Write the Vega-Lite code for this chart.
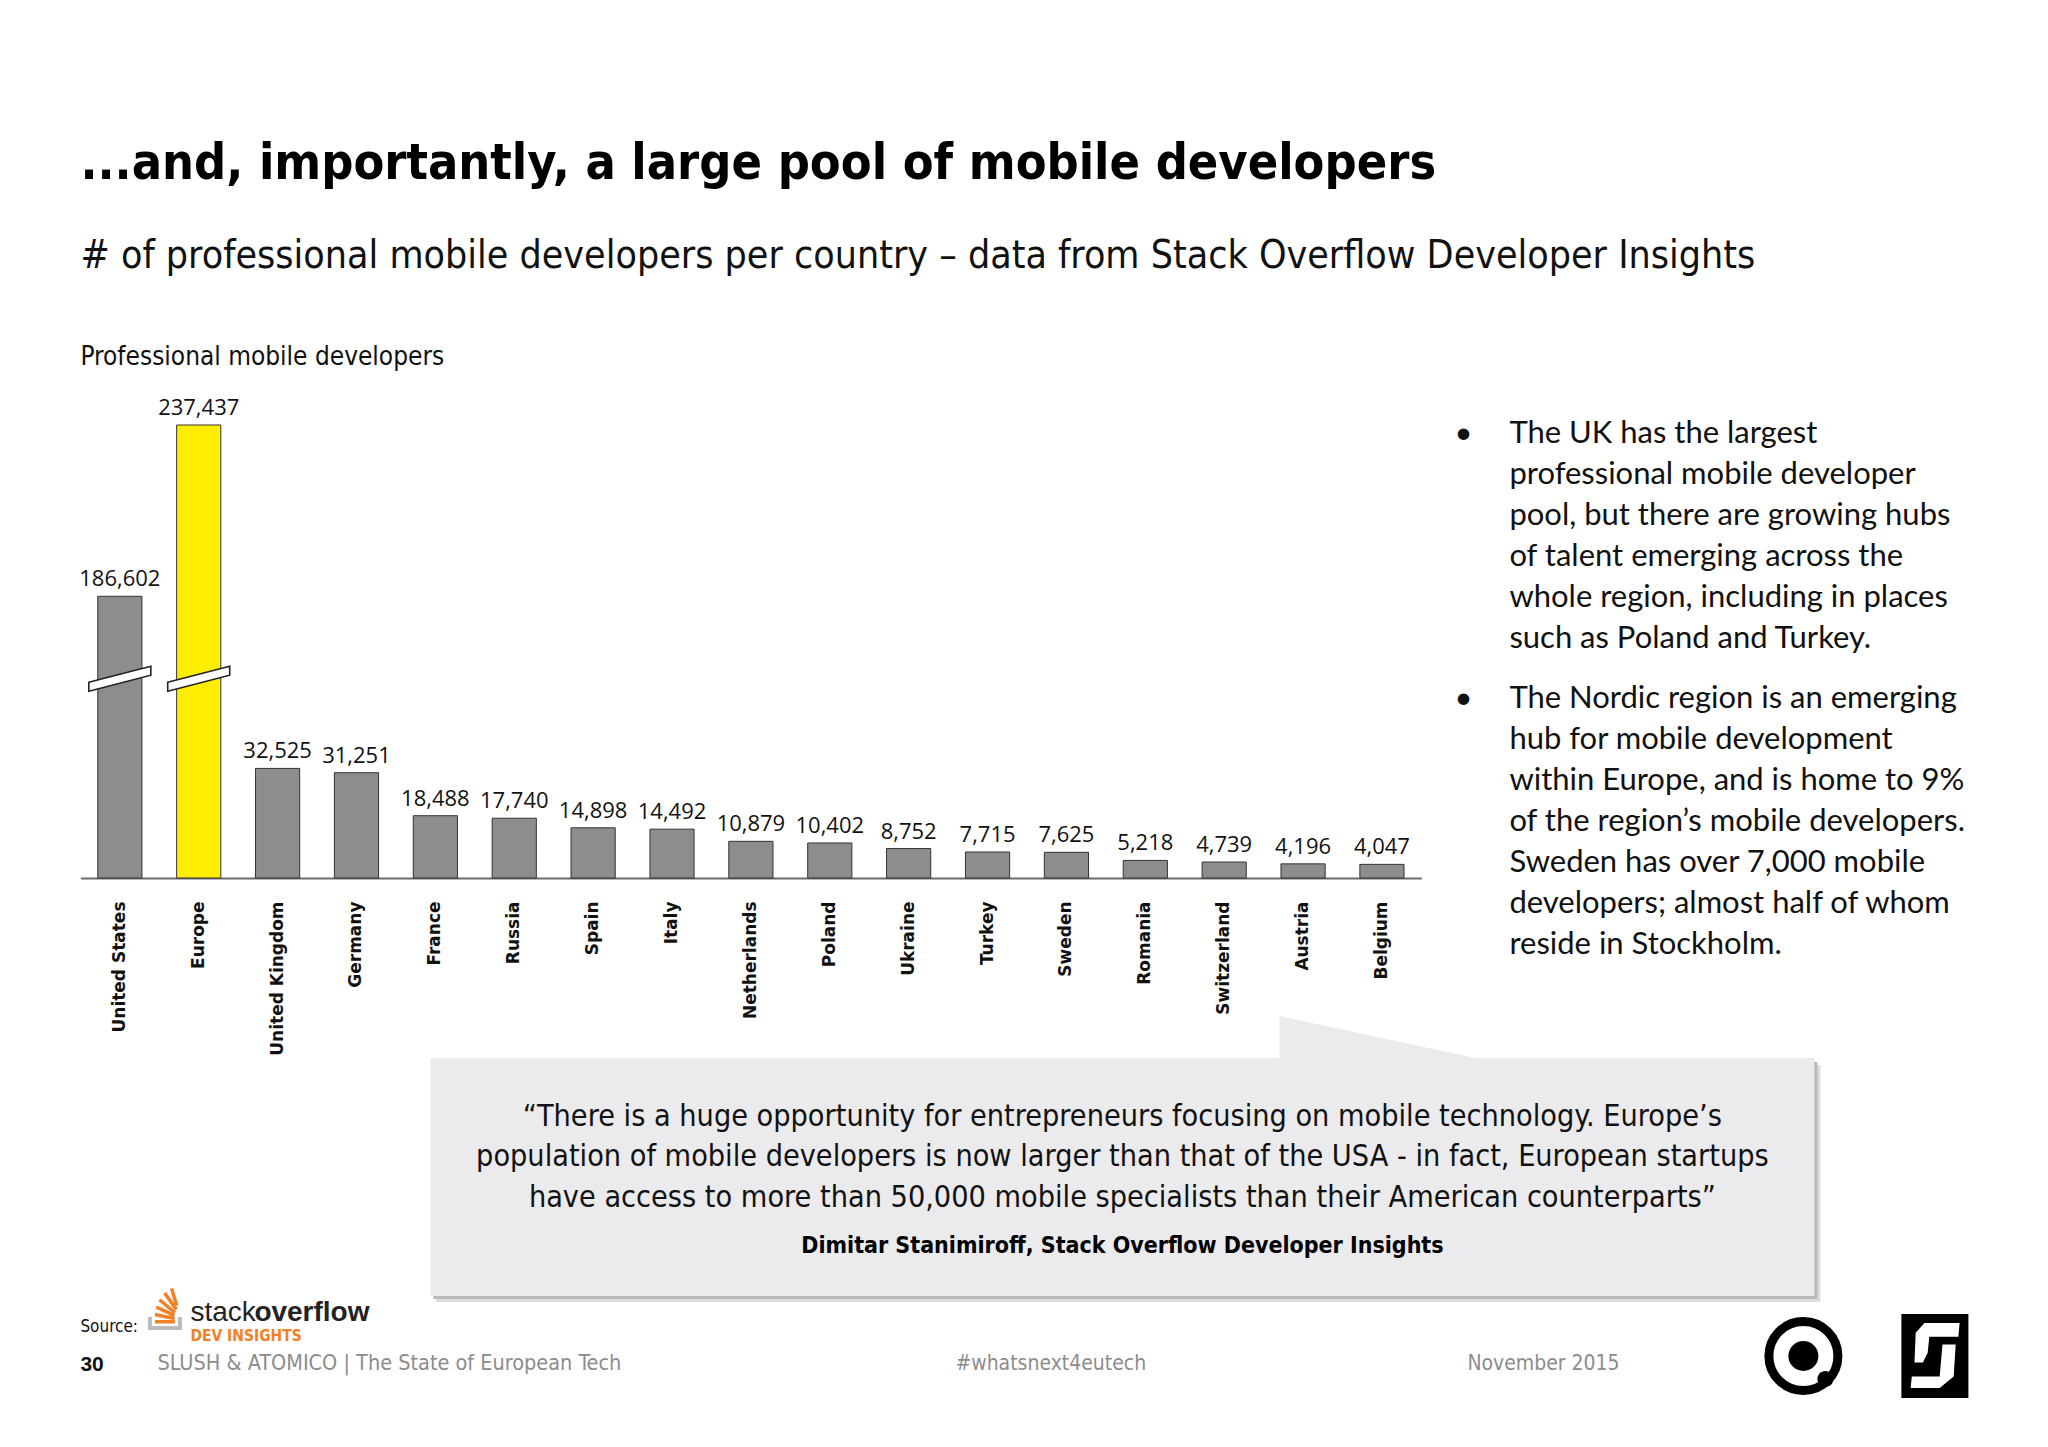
{
  "$schema": "https://vega.github.io/schema/vega-lite/v6.json",
  "background": "white",
  "padding": {"left": 78.4, "top": 139, "right": 10, "bottom": 10},
  "config": {
    "view": {"stroke": null},
    "font": "DejaVu Sans Condensed",
    "title": {"frame": "group", "anchor": "start"}
  },
  "title": {
    "text": "...and, importantly, a large pool of mobile developers",
    "subtitle": "# of professional mobile developers per country – data from Stack Overflow Developer Insights",
    "anchor": "start",
    "frame": "group",
    "offset": 68,
    "font": "DejaVu Sans Condensed",
    "fontSize": 50,
    "fontWeight": "bold",
    "color": "#000000",
    "subtitleFont": "DejaVu Sans Condensed",
    "subtitleFontSize": 39,
    "subtitleColor": "#111111",
    "subtitlePadding": 48
  },
  "bounds": "flush",
  "spacing": 663,
  "vconcat": [
    {
      "bounds": "flush",
      "spacing": 33,
      "hconcat": [
        {
          "width": 1341,
          "height": 483,
          "title": {
            "text": "Professional mobile developers",
            "anchor": "start",
            "frame": "group",
            "offset": 25,
            "font": "DejaVu Sans Condensed",
            "fontSize": 26,
            "fontWeight": "normal",
            "color": "#111111"
          },
          "data": {
            "values": [
              {"country": "United States", "developers": 186602},
              {"country": "Europe", "developers": 237437},
              {"country": "United Kingdom", "developers": 32525},
              {"country": "Germany", "developers": 31251},
              {"country": "France", "developers": 18488},
              {"country": "Russia", "developers": 17740},
              {"country": "Spain", "developers": 14898},
              {"country": "Italy", "developers": 14492},
              {"country": "Netherlands", "developers": 10879},
              {"country": "Poland", "developers": 10402},
              {"country": "Ukraine", "developers": 8752},
              {"country": "Turkey", "developers": 7715},
              {"country": "Sweden", "developers": 7625},
              {"country": "Romania", "developers": 5218},
              {"country": "Switzerland", "developers": 4739},
              {"country": "Austria", "developers": 4196},
              {"country": "Belgium", "developers": 4047}
            ]
          },
          "encoding": {
            "x": {
              "field": "country",
              "type": "nominal",
              "sort": null,
              "scale": {"paddingInner": 0.44, "paddingOuter": 0.22},
              "axis": {
                "title": null,
                "labelAngle": -90,
                "labelAlign": "right",
                "labelBaseline": "middle",
                "labelPadding": 23,
                "ticks": false,
                "domainColor": "#6b6b6b",
                "domainWidth": 2,
                "labelFont": "DejaVu Sans",
                "labelFontWeight": "bold",
                "labelFontSize": 17,
                "labelColor": "#111111",
                "labelOverlap": false
              }
            },
            "y": {
              "field": "developers",
              "type": "quantitative",
              "scale": {"domain": [0, 59000, 162000, 245000], "range": [483, 284.2, 284.2, 4.5], "nice": false, "zero": false},
              "axis": null
            }
          },
          "layer": [
            {
              "mark": {"type": "bar", "stroke": "#333333", "strokeWidth": 1},
              "encoding": {
                "color": {"condition": {"test": "datum.country === 'Europe'", "value": "#ffed00"}, "value": "#8d8c8f"}
              }
            },
            {
              "data": {"values": [
                {"country": "United States", "developers": 59000},
                {"country": "Europe", "developers": 59000}
              ]},
              "mark": {"type": "point", "shape": "M-31,3L31,-13L31,-4L-31,12Z", "size": 4, "filled": true, "fill": "white", "stroke": "#222222", "strokeWidth": 1.6, "opacity": 1}
            },
            {
              "mark": {"type": "text", "baseline": "bottom", "dy": -5, "font": "Open Sans", "fontSize": 22, "color": "#111111"},
              "encoding": {"text": {"field": "developers", "type": "quantitative", "format": ","}}
            }
          ]
        },
        {
          "width": 520,
          "height": 483,
          "data": {
            "values": [
              {"para": "1", "col": "bullet", "txt": "•"},
              {"para": "1", "col": "text", "txt": "The UK has the largest\nprofessional mobile developer\npool, but there are growing hubs\nof talent emerging across the\nwhole region, including in places\nsuch as Poland and Turkey."},
              {"para": "2", "col": "bullet", "txt": "•"},
              {"para": "2", "col": "text", "txt": "The Nordic region is an emerging\nhub for mobile development\nwithin Europe, and is home to 9%\nof the region’s mobile developers.\nSweden has over 7,000 mobile\ndevelopers; almost half of whom\nreside in Stockholm."}
            ]
          },
          "mark": {"type": "text", "align": "left", "baseline": "top", "lineBreak": "\n", "lineHeight": 41, "font": "Lato", "fontSize": 31, "color": "#111111"},
          "encoding": {
            "x": {"field": "col", "type": "nominal", "scale": {"type": "point", "domain": ["bullet", "text"], "range": [0, 55], "padding": 0}, "axis": null},
            "y": {"field": "para", "type": "nominal", "scale": {"type": "point", "domain": ["1", "2"], "range": [24, 289], "padding": 0}, "axis": null},
            "text": {"field": "txt"}
          }
        }
      ]
    },
    {
      "bounds": "flush",
      "spacing": 242,
      "vconcat": [
        {
          "bounds": "flush",
          "spacing": 20,
          "hconcat": [
            {"width": 330, "height": 238, "data": {"values": []}, "mark": "text"},
            {
              "width": 1384,
              "height": 238,
              "layer": [
                {
                  "data": {"values": [{"part": "shadow"}]},
                  "mark": {"type": "point", "shape": "M-686,-112H698V125H-686Z", "size": 4, "filled": true, "color": "#dcdcde", "opacity": 1, "strokeWidth": 0}
                },
                {
                  "data": {"values": [{"part": "shadow"}]},
                  "mark": {"type": "point", "shape": "M-689,-115H695V122H-689Z", "size": 4, "filled": true, "color": "#b9b9bb", "opacity": 1, "strokeWidth": 0}
                },
                {
                  "data": {"values": [{"part": "box"}]},
                  "mark": {"type": "point", "shape": "M-692,-119L157,-119L157,-161L353,-119L692,-119L692,119L-692,119Z", "size": 4, "filled": true, "color": "#ebeaed", "opacity": 1, "strokeWidth": 0}
                },
                {
                  "data": {"values": [
                    {"line": 1, "kind": "quote", "txt": "“There is a huge opportunity for entrepreneurs focusing on mobile technology. Europe’s"},
                    {"line": 2, "kind": "quote", "txt": "population of mobile developers is now larger than that of the USA - in fact, European startups"},
                    {"line": 3, "kind": "quote", "txt": "have access to more than 50,000 mobile specialists than their American counterparts”"},
                    {"line": 4, "kind": "author", "txt": "Dimitar Stanimiroff, Stack Overflow Developer Insights"}
                  ]},
                  "layer": [
                    {
                      "transform": [{"filter": "datum.kind === 'quote'"}],
                      "mark": {"type": "text", "align": "center", "baseline": "middle", "font": "DejaVu Sans Condensed", "fontSize": 30.3, "color": "#111111"},
                      "encoding": {
                        "y": {"field": "line", "type": "quantitative", "scale": {"domain": [1, 3, 4], "range": [59, 140, 188], "nice": false, "zero": false}, "axis": null},
                        "text": {"field": "txt"}
                      }
                    },
                    {
                      "transform": [{"filter": "datum.kind === 'author'"}],
                      "mark": {"type": "text", "align": "center", "baseline": "middle", "font": "DejaVu Sans Condensed", "fontSize": 23, "fontWeight": "bold", "color": "#000000"},
                      "encoding": {
                        "y": {"field": "line", "type": "quantitative", "axis": null},
                        "text": {"field": "txt"}
                      }
                    }
                  ]
                }
              ]
            }
          ]
        },
        {
          "bounds": "flush",
          "spacing": 16,
          "vconcat": [
            {
              "bounds": "flush",
              "spacing": 0,
              "hconcat": [
                {
                  "width": 67, "height": 16, "data": {"values": []}, "mark": "text",
                  "title": {"text": "Source:", "orient": "bottom", "anchor": "start", "frame": "group", "offset": 3, "font": "DejaVu Sans Condensed", "fontSize": 17, "fontWeight": "normal", "color": "#111111"}
                },
                {
                  "width": 43, "height": 16,
                  "data": {"values": [{"part": "icon"}]},
                  "layer": [
                    {"mark": {"type": "point", "shape": "M-21,9H-17V18H9V9H13V22H-21Z", "size": 4, "filled": true, "color": "#bcbbbb", "opacity": 1, "strokeWidth": 0}},
                    {"mark": {"type": "point", "shape": "M-14,12H6V15.5H-14Z M-13.6,4.8L6.1,8.9L5.4,12.3L-14.3,8.2Z M-11.9,-2.6L6.3,6.0L4.8,9.2L-13.4,0.6Z M-8.2,-9.6L7.2,3.4L4.9,6.1L-10.5,-6.9Z M-2.8,-16L8.9,0.6L6.0,2.6L-5.7,-14Z M4.3,-20L9.5,-3L6.2,-2L1,-19Z", "size": 4, "filled": true, "color": "#f48024", "opacity": 1, "strokeWidth": 0}}
                  ]
                },
                {
                  "width": 64, "height": 16, "data": {"values": []}, "mark": "text",
                  "title": {"text": "stack", "subtitle": "DEV INSIGHTS", "orient": "bottom", "anchor": "start", "frame": "group", "offset": -17, "font": "Liberation Sans", "fontSize": 28, "fontWeight": "normal", "color": "#222222", "subtitleFont": "DejaVu Sans Condensed", "subtitleFontSize": 15.5, "subtitleFontWeight": "bold", "subtitleColor": "#f48024", "subtitlePadding": 2}
                },
                {
                  "width": 120, "height": 16, "data": {"values": []}, "mark": "text",
                  "title": {"text": "overflow", "orient": "bottom", "anchor": "start", "frame": "group", "offset": -17, "font": "Liberation Sans", "fontSize": 28, "fontWeight": "bold", "color": "#222222"}
                }
              ]
            },
            {
              "bounds": "flush",
              "spacing": 0,
              "hconcat": [
                {
                  "width": 77, "height": 1, "data": {"values": []}, "mark": "text",
                  "title": {"text": "30", "orient": "bottom", "anchor": "start", "frame": "group", "offset": 37, "font": "Liberation Sans", "fontSize": 21, "fontWeight": "bold", "color": "#111111"}
                },
                {
                  "width": 798, "height": 1, "data": {"values": []}, "mark": "text",
                  "title": {"text": "SLUSH & ATOMICO | The State of European Tech", "orient": "bottom", "anchor": "start", "frame": "group", "offset": 36, "font": "DejaVu Sans Condensed", "fontSize": 21.5, "fontWeight": "normal", "color": "#8c8c8c"}
                },
                {
                  "width": 512, "height": 1, "data": {"values": []}, "mark": "text",
                  "title": {"text": "#whatsnext4eutech", "orient": "bottom", "anchor": "start", "frame": "group", "offset": 36, "font": "DejaVu Sans Condensed", "fontSize": 21, "fontWeight": "normal", "color": "#8c8c8c"}
                },
                {
                  "width": 297, "height": 1, "data": {"values": []}, "mark": "text",
                  "title": {"text": "November 2015", "orient": "bottom", "anchor": "start", "frame": "group", "offset": 36, "font": "DejaVu Sans Condensed", "fontSize": 21, "fontWeight": "normal", "color": "#8c8c8c"}
                },
                {
                  "width": 78, "height": 80,
                  "data": {"values": [{"part": "logo"}]},
                  "layer": [
                    {"mark": {"type": "point", "shape": "circle", "size": 4761, "filled": false, "stroke": "#000000", "strokeWidth": 9, "opacity": 1}},
                    {"mark": {"type": "point", "shape": "circle", "size": 900, "filled": true, "color": "#000000", "opacity": 1, "strokeWidth": 0}},
                    {"mark": {"type": "point", "shape": "M30,23A8,8 0 1,1 14,23A8,8 0 1,1 30,23Z", "size": 4, "filled": true, "color": "#000000", "opacity": 1, "strokeWidth": 0}}
                  ]
                },
                {"width": 59, "height": 80, "data": {"values": []}, "mark": "text"},
                {
                  "width": 67, "height": 80,
                  "data": {"values": [{"part": "logo"}]},
                  "layer": [
                    {"mark": {"type": "point", "shape": "M-33.5,-42H33.5V42H-33.5Z", "size": 4, "filled": true, "color": "#000000", "opacity": 1, "strokeWidth": 0}},
                    {"mark": {"type": "point", "shape": "M-10.4,-33.1L24.7,-33.1L23.5,-19.2L-5.6,-19.2L-7.2,-3.3L-12,6.6L-20.4,6.6L-19.2,-23.2Z M7.6,-11.6L20.8,-11.6L18.8,20.5L4.8,32.1L-24.3,32.1L-23.1,20.5L4.8,20.5Z", "size": 4, "filled": true, "color": "#ffffff", "opacity": 1, "strokeWidth": 0}}
                  ]
                }
              ]
            }
          ]
        }
      ]
    }
  ]
}
